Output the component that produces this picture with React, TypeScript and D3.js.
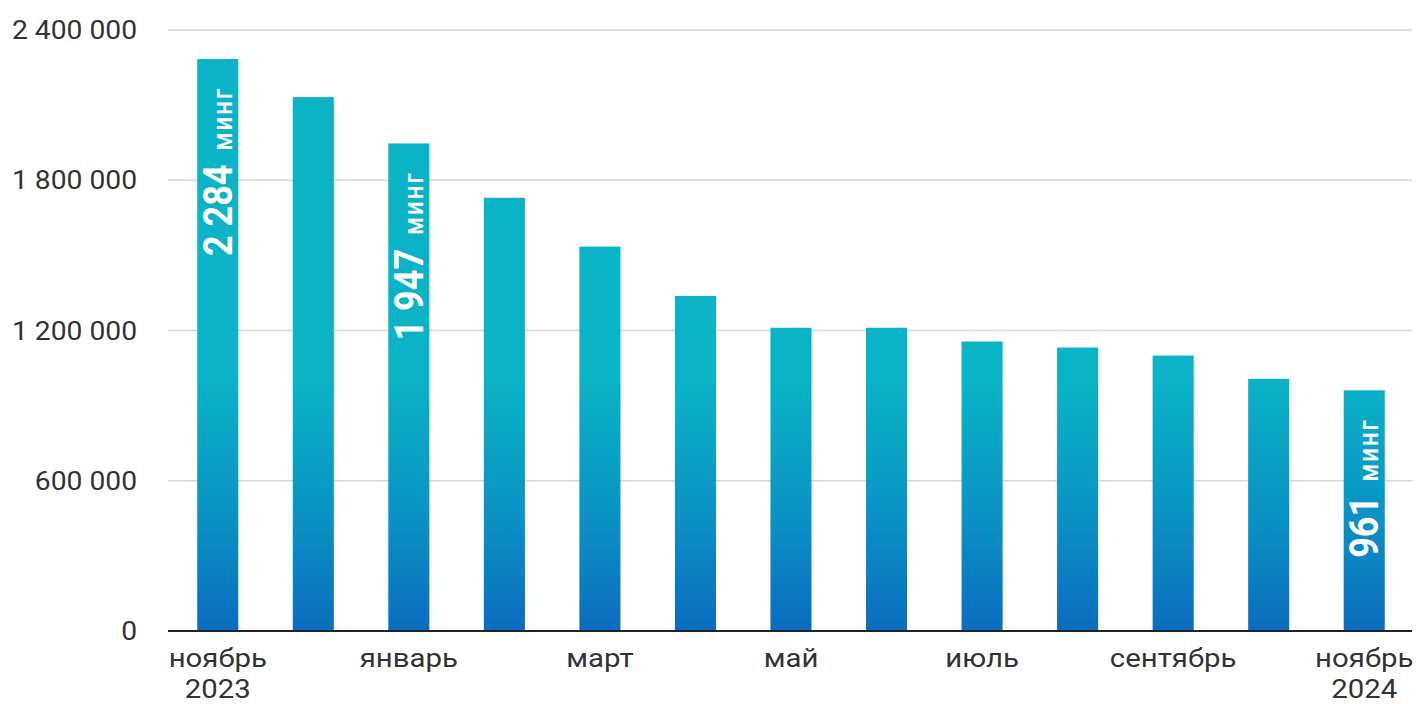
import React from "react";
import * as d3 from "d3";

const months = ["ноябрь", "декабрь", "январь", "февраль", "март", "апрель", "май", "июнь", "июль", "август", "сентябрь", "октябрь", "ноябрь"];
const years = ["2023", "", "", "", "", "", "", "", "", "", "", "", "2024"];
const showLabel = [true, false, true, false, true, false, true, false, true, false, true, false, true];
const values = [2284000, 2132000, 1947000, 1730000, 1535000, 1338000, 1211000, 1211000, 1156000, 1132000, 1100000, 1007000, 961000];
const valueLabels: (string | null)[] = ["2 284", null, "1 947", null, null, null, null, null, null, null, null, null, "961"];
const yTicks = [0, 600000, 1200000, 1800000, 2400000];

const W = 1418;
const H = 704;
const left = 170;
const right = 1412;
const top = 30;
const bottom = 631;
const SX = 1.13;
const FONT = "Roboto, 'Noto Sans', sans-serif";

export default function App() {
  const x = d3.scaleBand<number>().domain(d3.range(values.length)).range([left, right]).paddingInner(0.57).paddingOuter(0.285);
  const y = d3.scaleLinear().domain([0, 2400000]).range([bottom, top]);
  const fmt = (v: number) => d3.format(",")(v).replace(/,/g, " ");

  return (
    <svg width={W} height={H} style={{ position: "absolute", left: 0, top: 0, background: "#fff" }}>
      <defs>
        <linearGradient id="barGrad" gradientUnits="userSpaceOnUse" x1={0} y1={bottom} x2={0} y2={y(1000000)}>
          <stop offset="0" stopColor="#0b6cbf" />
          <stop offset="0.45" stopColor="#0a92c4" />
          <stop offset="1" stopColor="#0ab3c5" />
        </linearGradient>
      </defs>
      {yTicks.map((t) => (
        <g key={t}>
          {t > 0 && <line x1={168} x2={right} y1={y(t)} y2={y(t)} stroke="#d6d6d6" strokeWidth={1.5} />}
          <text transform={`translate(137,${y(t)}) scale(${SX},1)`} dy="0.36em" textAnchor="end" fontFamily={FONT} fontSize={25} fill="#333">
            {fmt(t)}
          </text>
        </g>
      ))}
      {values.map((v, i) => (
        <rect key={i} x={x(i)} y={y(v)} width={x.bandwidth()} height={bottom - y(v)} fill="url(#barGrad)" />
      ))}
      <line x1={168} x2={right} y1={bottom} y2={bottom} stroke="#222" strokeWidth={2} />
      {values.map((v, i) => {
        const lbl = valueLabels[i];
        if (!lbl) return null;
        const cx = (x(i) as number) + x.bandwidth() / 2;
        const ty = y(v) + 28;
        return (
          <text key={"v" + i} transform={`translate(${cx},${ty}) rotate(-90) scale(1,${SX})`} x={0} y={12.5} textAnchor="end" fill="#fff" fontFamily={FONT}>
            <tspan fontWeight={700} fontSize={36}>{lbl}</tspan>
            <tspan fontSize={24} fontWeight={500} dx={14} letterSpacing={2}>минг</tspan>
          </text>
        );
      })}
      {months.map((m, i) => {
        if (!showLabel[i]) return null;
        const cx = (x(i) as number) + x.bandwidth() / 2;
        return (
          <text key={"m" + i} transform={`translate(${cx},0) scale(${SX},1)`} textAnchor="middle" fontFamily={FONT} fontSize={26} fill="#333">
            <tspan x={0} y={667}>{m}</tspan>
            {years[i] && <tspan x={0} y={698}>{years[i]}</tspan>}
          </text>
        );
      })}
    </svg>
  );
}
